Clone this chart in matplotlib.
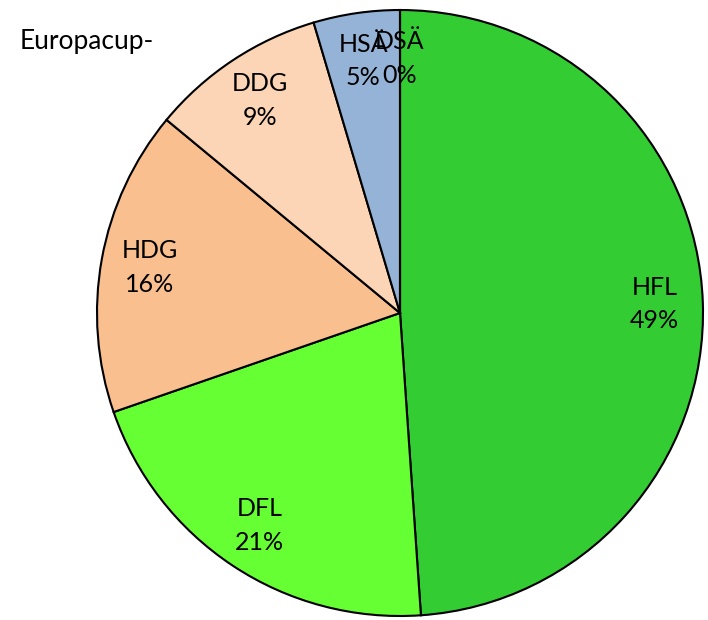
import matplotlib
matplotlib.use("Agg")
import matplotlib.pyplot as plt
import numpy as np

categories = ["HFL", "DFL", "HDG", "DDG", "HSÄ", "DSÄ"]
values = [48.9, 20.8, 16.3, 9.4, 4.6, 0.0]
colors = ["#33CC33", "#66FF33", "#F9BF8F", "#FBD5B5", "#95B3D7", "#B3C7E6"]
title = "Europacup-"

plt.rcParams['font.family'] = ['Lato', 'DejaVu Sans']

fig = plt.figure(figsize=(7.08, 6.20), dpi=100)
W, H = 708, 620
cx, cy, R = 400, 313, 303
ax = fig.add_axes([(cx - R) / W, (H - cy - R) / H, 2 * R / W, 2 * R / H])

wedges, _ = ax.pie(values, colors=colors, startangle=90, counterclock=False,
                   radius=1.0, wedgeprops=dict(edgecolor='black', linewidth=1.5),
                   normalize=True)
ax.set_xlim(-1, 1)
ax.set_ylim(-1, 1)
ax.set_aspect('equal')
ax.axis('off')
for w in wedges:
    w.set_clip_on(False)

total = sum(values)
start = 90.0
for cat, v in zip(categories, values):
    span = 360.0 * v / total
    mid = np.deg2rad(start - span / 2)
    r = 0.84
    pct = round(100 * v / total)
    ax.text(r * np.cos(mid), r * np.sin(mid), f"{cat}\n{pct}%", ha='center', va='center',
            fontsize=18, linespacing=1.55, color='black')
    start -= span

fig.text(20 / W, 1 - 41 / H, title, fontsize=19, ha='left', va='center')

fig.savefig("out.png", dpi=100)
